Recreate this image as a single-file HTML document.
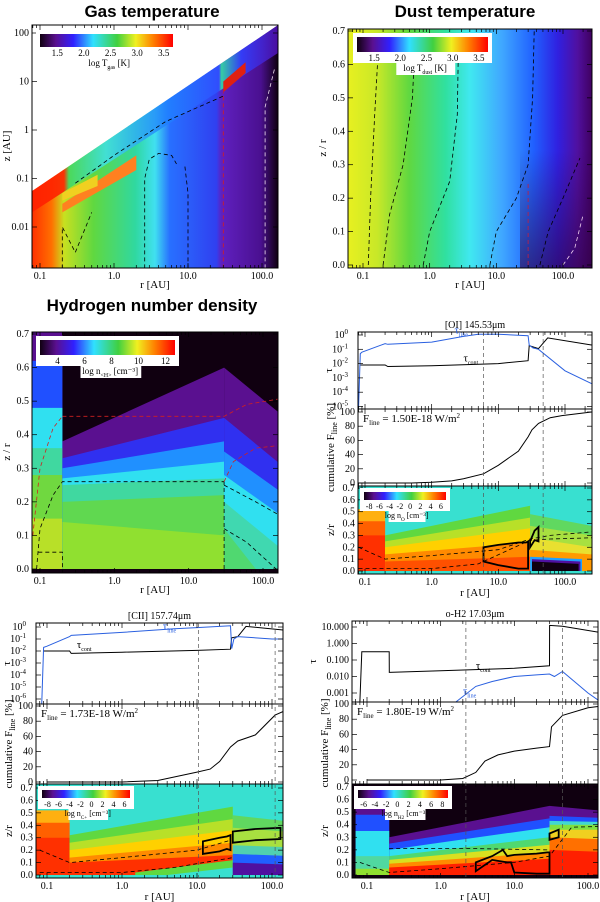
<!DOCTYPE html>
<html><head><meta charset="utf-8"><title>Disk model figure</title>
<style>
html,body{margin:0;padding:0;background:#fff;}
svg{display:block;font-family:"Liberation Serif",serif;}
.t{font-family:"Liberation Sans",sans-serif;font-weight:bold;font-size:17px;}
.tk{font-size:10px;}
</style></head>
<body>
<svg id="fig" width="600" height="902" viewBox="0 0 600 902" xmlns="http://www.w3.org/2000/svg">
<defs>
<linearGradient id="rb" x1="0" x2="1" y1="0" y2="0">
<stop offset="0" stop-color="#100010"/><stop offset="0.12" stop-color="#5a1090"/><stop offset="0.25" stop-color="#3020ff"/>
<stop offset="0.4" stop-color="#30e0ff"/><stop offset="0.58" stop-color="#40d040"/><stop offset="0.72" stop-color="#f0f020"/>
<stop offset="0.85" stop-color="#ff8000"/><stop offset="1" stop-color="#ff0000"/></linearGradient>
<linearGradient id="gasg" gradientUnits="userSpaceOnUse" x1="32" x2="278" y1="0" y2="0">
<stop offset="0" stop-color="#ff3000"/><stop offset="0.08" stop-color="#ff7000"/><stop offset="0.13" stop-color="#c8e020"/>
<stop offset="0.25" stop-color="#60d840"/><stop offset="0.42" stop-color="#30d8a0"/><stop offset="0.5" stop-color="#40e0f0"/>
<stop offset="0.56" stop-color="#2870ff"/><stop offset="0.75" stop-color="#3040f0"/><stop offset="0.77" stop-color="#6020c0"/>
<stop offset="0.93" stop-color="#4a1090"/><stop offset="1" stop-color="#100010"/></linearGradient>
<linearGradient id="gasup" gradientUnits="userSpaceOnUse" x1="32" x2="278" y1="0" y2="0">
<stop offset="0" stop-color="#ff2000"/><stop offset="0.13" stop-color="#ff2000"/><stop offset="0.15" stop-color="#40d860"/>
<stop offset="0.3" stop-color="#40e0e0"/><stop offset="0.55" stop-color="#2080ff"/><stop offset="0.76" stop-color="#3050ff"/>
<stop offset="0.77" stop-color="#30e0a0"/><stop offset="0.85" stop-color="#3040ff"/><stop offset="1" stop-color="#5010b0"/></linearGradient>
<linearGradient id="dustg" gradientUnits="userSpaceOnUse" x1="348" x2="592" y1="0" y2="0">
<stop offset="0" stop-color="#e8f020"/><stop offset="0.12" stop-color="#c8e828"/><stop offset="0.25" stop-color="#60d840"/>
<stop offset="0.4" stop-color="#30e0a0"/><stop offset="0.5" stop-color="#40e8f0"/><stop offset="0.63" stop-color="#40a8ff"/>
<stop offset="0.76" stop-color="#2060ff"/><stop offset="0.86" stop-color="#3020e0"/><stop offset="0.94" stop-color="#5010a0"/>
<stop offset="1" stop-color="#400060"/></linearGradient>
<linearGradient id="dustv" gradientUnits="userSpaceOnUse" x1="0" x2="0" y1="150" y2="268">
<stop offset="0" stop-color="#300040" stop-opacity="0"/><stop offset="1" stop-color="#300040" stop-opacity="0.6"/></linearGradient>
</defs>
</svg>
<script>
// ---------- data arrays ----------
const oiR = [0.08,0.085,0.09,0.2,0.22,1,3,5,10,28,29,33,40,100,250];
const oiLine = [-5.2,-1.3,-1.2,-0.6,-0.65,-0.5,-0.1,0.05,0.05,-0.05,-0.7,-0.9,-1.0,-2.5,-3.4];
const oiContR = [0.085,0.2,0.22,1,10,28,29,40,55,250];
const oiCont = [-2.1,-2.1,-2.2,-2.15,-2.0,-1.8,-0.75,-0.95,-0.2,-0.7];
const oiCumR = [0.08,0.5,1,2,3,6,10,20,28,32,40,60,90,250];
const oiCum = [0,0,1,3,6,13,25,45,65,75,84,92,95,100];
const ciiR = [0.085,0.09,0.1,0.2,0.21,1,5,10,28,29,31,35,100,250];
const ciiLine = [-6.5,-1.7,-1.6,-0.8,-0.7,-0.45,-0.15,-0.05,0.1,-1.8,-1.0,-0.8,-1.0,-1.0];
const ciiContR = [0.09,0.2,0.21,1,10,28,29,35,45,250];
const ciiCont = [-2,-2,-2.2,-2.1,-1.95,-1.85,-0.9,-0.8,0.05,-0.4];
const ciiCumR = [0.1,1,3,10,15,20,28,35,60,110,150,250];
const ciiCum = [0,0,2,13,17,27,46,54,62,88,94,100];
const h2ContR = [0.08,0.085,0.2,0.201,1,10,30,30.1,45,250];
const h2Cont = [-3.5,-0.5,-0.5,-1.75,-1.65,-1.5,-1.35,1.1,1.05,0.5];
const h2LineR = [1.6,3,5,10,20,30,35,45,100,150];
const h2Line = [-3.55,-2.6,-2.3,-2.0,-1.9,-1.85,-2.0,-1.7,-3.0,-3.55];
const h2CumR = [0.1,1,2,3,4,6,10,20,30,32,45,100,250];
const h2Cum = [0,0,2,10,25,33,38,42,44,70,85,95,100];
const xTickVals = [0.1,1,10,100];
const xTickLabels = ["0.1","1.0","10.0","100.0"];
const zrTicks = [0,0.1,0.2,0.3,0.4,0.5,0.6,0.7];
const zrLabels = ["0.0","0.1","0.2","0.3","0.4","0.5","0.6","0.7"];
const zLogTicks = [0.01,0.1,1,10,100];
const zLogLabels = ["0.01","0.1","1","10","100"];
const cumTicks = [0,20,40,60,80,100];
const cumLabels = ["0","20","40","60","80","100"];
const h2TauTicks = [1,0,-1,-2,-3];
const h2TauLabels = ["10.000","1.000","0.100","0.010","0.001"];
const cbGas = ["1.5","2.0","2.5","3.0","3.5"];
const cbH = ["4","6","8","10","12"];
const cbOI = ["-8","-6","-4","-2","0","2","4","6"];
const cbH2 = ["-6","-4","-2","0","2","4","6","8"];

const NS='http://www.w3.org/2000/svg';
const svg=document.getElementById('fig');
function mk(tag,a,p){const e=document.createElementNS(NS,tag);for(const k in a)e.setAttribute(k,a[k]);(p||svg).appendChild(e);return e;}
function L10(v){return Math.log(v)/Math.LN10;}
function axX(P){return r=>P.p01+(L10(r)+1)*(P.p100-P.p01)/3;}
function axLin(v0,y0,v1,y1){return v=>y0+(v-v0)*(y1-y0)/(v1-v0);}
let clipN=0;
function clip(x0,y0,x1,y1){const id='c'+(clipN++);const cp=mk('clipPath',{id:id},svg.querySelector('defs'));mk('rect',{x:x0,y:y0,width:x1-x0,height:y1-y0},cp);return 'url(#'+id+')';}
function frame(x0,y0,x1,y1,g){const e=mk('rect',{x:x0,y:y0,width:x1-x0,height:y1-y0,fill:'none',stroke:'#000','stroke-width':1},g);

}
function txt(x,y,s,a,g){const e=mk('text',Object.assign({x:x,y:y},a||{}),g);e.textContent=s;return e;}
function xTicks(fx,x0,x1,y0,y1,g,labels){
  for(let d=-2;d<=2;d++)for(let m=1;m<10;m++){const r=m*Math.pow(10,d);const x=fx(r);if(x<=x0+0.5||x>=x1-0.5)continue;
    const len=m===1?5:3;mk('line',{x1:x,x2:x,y1:y1,y2:y1-len,stroke:'#000','stroke-width':0.7},g);mk('line',{x1:x,x2:x,y1:y0,y2:y0+len,stroke:'#000','stroke-width':0.7},g);}
  if(labels)xTickVals.forEach((v,i)=>{const e=txt(fx(v),y1+11,xTickLabels[i],{'text-anchor':'middle','class':'tk'},g);
    
    });
}
function yTicks(vals,labs,fy,x0,x1,g,sup){
  vals.forEach((v,i)=>{const y=fy(v);mk('line',{x1:x0,x2:x0+5,y1:y,y2:y,stroke:'#000','stroke-width':0.7},g);mk('line',{x1:x1,x2:x1-5,y1:y,y2:y,stroke:'#000','stroke-width':0.7},g);
    let e;
    if(sup){e=txt(x0-10,y+3,'10',{'text-anchor':'end','class':'tk'},g);const s=mk('tspan',{dy:-4,'font-size':7},e);s.textContent=labs[i];}
    else e=txt(x0-3,y+3,labs[i],{'text-anchor':'end','class':'tk'},g);
    
    });
}
function pathD(xs,ys,fx,fy){return xs.map((r,i)=>(i?'L':'M')+fx(r).toFixed(1)+','+fy(ys[i]).toFixed(1)).join(' ');}
function layers(L,fx,fy,g){L.forEach(l=>{const p=[[l[0],l[2]],[l[1],l[3]],[l[1],l[5]],[l[0],l[4]]].map(q=>fx(q[0]).toFixed(1)+','+fy(q[1]).toFixed(1)).join(' ');
  const e=mk('polygon',{points:p,fill:l[6]},g);
  
  });}
function colorbar(x,y,w,h,labs,label,sub,unit,g,fs){
  const bg=mk('rect',{x:x-4,y:y-4,width:w+8,height:h+15,fill:'#fff'},g);
  
  
  const b=mk('rect',{x:x,y:y,width:w,height:h,fill:'url(#rb)'},g);
  
  
  labs.forEach((s,i)=>{const e=txt(x+w*(i+0.5)/labs.length+ (labs.length>5?0:4),y+h+9,s,{'text-anchor':'middle','font-size':fs},g);
    
    });
  const lb=mk('rect',{x:x+w*0.3,y:y+h+10,width:w*0.45,height:fs+4,fill:'#fff'},g);
  const t=txt(x+w*0.52,y+h+10+fs,label,{'text-anchor':'middle','font-size':fs},g);
  const s=mk('tspan',{dy:3,'font-size':fs*0.65},t);s.textContent=sub;
  const u=mk('tspan',{dy:-3},t);u.textContent=' '+unit;
  
  
}
function title(x,y,s){const e=txt(x,y,s,{'text-anchor':'middle','class':'t'});
  
  }
function ylabel(x,y,s,sub,rest,g){const e=txt(x,y,s,{'text-anchor':'middle','font-size':11,transform:'rotate(-90 '+x+' '+y+')'},g);
  if(sub){const t=mk('tspan',{dy:3,'font-size':8},e);t.textContent=sub;const u=mk('tspan',{dy:-3},e);u.textContent=rest;}
  
  }
function xlabel(x,y,g){const e=txt(x,y,'r [AU]',{'text-anchor':'middle','font-size':11},g);
  
  }
function dash(d,col,g,w){const e=mk('path',{d:d,fill:'none',stroke:col,'stroke-width':w||0.8,'stroke-dasharray':'4,3'},g);
  
  }

// ---------- Panel 1: gas temperature ----------
title(152,17,'Gas temperature');
(function(){
 const g=mk('g',{});
 const P={p01:40,p100:262};const fx=axX(P);const fy=z=>227-(L10(z)+2)*48.5;
 const gc=mk('g',{'clip-path':clip(32,25,278,268)},g);
 const rmin=0.078,rmax=170;
 const disk=mk('polygon',{points:[[rmin,0.001],[rmin,0.055],[rmax,150],[rmax,0.001]].map(q=>fx(q[0])+','+fy(q[1])).join(' '),fill:'url(#gasg)'},gc);
 
 
 const up=mk('polygon',{points:[[rmin,0.055],[rmax,150],[rmax,40],[rmin,0.02]].map(q=>fx(q[0])+','+fy(q[1])).join(' '),fill:'url(#gasup)',opacity:0.9},gc);
 
 
 layers([[0.2,2,0.03,0.3,0.02,0.15,'#ff8020'],[0.2,0.6,0.05,0.12,0.035,0.07,'#f0d020']],fx,fy,gc);
 const hot=mk('polygon',{points:[[30,10],[60,25],[60,15],[30,6]].map(q=>fx(q[0])+','+fy(q[1])).join(' '),fill:'#e02010'},gc);
 
 
 dash(pathD([2.6,2.6,3,4,6,7],[0.0014,0.1,0.25,0.33,0.3,0.2],fx,fy),'#000',gc);
 dash(pathD([10,10,9],[0.0014,0.05,0.2],fx,fy),'#000',gc);
 dash(pathD([0.2,0.2,0.3,0.5],[0.0014,0.01,0.003,0.02],fx,fy),'#000',gc);
 dash(pathD([0.3,1,5,30],[0.08,0.3,1.5,5],fx,fy),'#000',gc);
 dash(pathD([110,110,150],[0.0014,3,20],fx,fy),'#f0e0f0',gc);
 dash(pathD([30,30],[0.0014,6],fx,fy),'#d02020',gc);
 frame(32,25,278,268,g);
 xTicks(fx,32,278,25,268,g,true);
 yTicks(zLogTicks,zLogLabels,fy,32,278,g,false);
 xlabel(155,288,g);ylabel(10,146,'z [AU]',null,null,g);
 colorbar(40,34,133,13,cbGas,'log T','gas','[K]',g,9);
})();

// ---------- Panel 2: dust temperature ----------
title(465,17,'Dust temperature');
(function(){
 const g=mk('g',{});
 const P={p01:363,p100:563};const fx=axX(P);const fy=axLin(0,265,0.7,31);
 const gc=mk('g',{'clip-path':clip(348,29,592,268)},g);
 const m=mk('rect',{x:348,y:29,width:244,height:239,fill:'url(#dustg)'},gc);
 
 
 const ov=mk('rect',{x:520,y:150,width:72,height:118,fill:'url(#dustv)'},gc);
 
 
 dash(pathD([0.12,0.13,0.15,0.17],[0,0.2,0.45,0.65],fx,fy),'#000',gc);
 dash(pathD([0.2,0.25,0.4,0.55,0.6],[0,0.15,0.3,0.5,0.65],fx,fy),'#000',gc);
 dash(pathD([0.8,1,2,2.6,2.7],[0,0.1,0.25,0.45,0.65],fx,fy),'#000',gc);
 dash(pathD([8,10,20,30,35,37],[0,0.1,0.2,0.3,0.5,0.7],fx,fy),'#000',gc);
 dash(pathD([45,60,100,180],[0,0.1,0.2,0.32],fx,fy),'#000',gc);
 dash(pathD([100,150,200],[0,0.05,0.15],fx,fy),'#f0d0f0',gc);
 dash(pathD([30,30],[0,0.25],fx,fy),'#c02040',gc);
 frame(348,29,592,268,g);
 xTicks(fx,348,592,29,268,g,true);
 yTicks(zrTicks,zrLabels,fy,348,592,g,false);
 xlabel(470,288,g);ylabel(326,148,'z / r',null,null,g);
 colorbar(357,37,131,15,cbGas,'log T','dust','[K]',g,9);
})();

// ---------- Panel 3: hydrogen density ----------
title(152,311,'Hydrogen number density');
(function(){
 const g=mk('g',{});
 const P={p01:40,p100:263};const fx=axX(P);const fy=axLin(0,569,0.7,334);
 const gc=mk('g',{'clip-path':clip(32,332,278,573)},g);
 const bg=mk('rect',{x:32,y:332,width:246,height:241,fill:'#100010'},gc);
 
 
 layers([
  [0.07,0.2,0.75,0.75,0,0,'#5a1090'],[0.07,0.2,0.62,0.62,0,0,'#2050ff'],[0.07,0.2,0.48,0.48,0,0,'#30e0f0'],
  [0.07,0.2,0.36,0.36,0,0,'#40d8a0'],[0.07,0.2,0.28,0.28,0,0,'#70d840'],[0.07,0.2,0.15,0.15,0,0,'#b8e028'],
  [0.2,30,0.38,0.6,0,0,'#5a1090'],[0.2,30,0.33,0.45,0,0,'#3030f0'],[0.2,30,0.3,0.38,0,0,'#2090ff'],
  [0.2,30,0.27,0.32,0,0,'#30e0f0'],[0.2,30,0.25,0.27,0,0,'#40d8a0'],[0.2,30,0.2,0.22,0,0,'#60d850'],[0.2,30,0.14,0.1,0,0,'#90e030'],
  [30,200,0.6,0.45,0,0,'#5a1090'],[30,200,0.45,0.3,0,0,'#3030f0'],[30,200,0.35,0.22,0,0,'#2090ff'],
  [30,200,0.28,0.15,0,0,'#30e0f0'],[30,200,0.2,0.05,0,0,'#40d8b0'],[30,80,0.12,0.0,0,0,'#50d870']
 ],fx,fy,gc);
 dash(pathD([0.2,30,60,200],[0.455,0.455,0.49,0.51],fx,fy),'#d02020',gc);
 dash(pathD([0.08,0.1,0.15,0.2],[0.1,0.3,0.42,0.455],fx,fy),'#d02020',gc);
 dash(pathD([0.09,0.1,0.15,0.2,30],[0,0.12,0.22,0.26,0.26],fx,fy),'#000',gc);
 dash(pathD([30,40,80,200],[0.26,0.32,0.36,0.37],fx,fy),'#d02020',gc);
 dash(pathD([30,30],[0,0.26],fx,fy),'#000',gc);
 dash(pathD([30,80,200],[0.25,0.2,0.15],fx,fy),'#000',gc);
 dash(pathD([30,60,150],[0.12,0.08,0],fx,fy),'#000',gc);
 dash(pathD([0.095,0.2,0.2],[0.05,0.05,0],fx,fy),'#000',gc);
 frame(32,332,278,573,g);
 xTicks(fx,32,278,332,573,g,true);
 yTicks(zrTicks,zrLabels,fy,32,278,g,false);
 xlabel(155,593,g);ylabel(10,452,'z / r',null,null,g);
 colorbar(40,340,135,15,cbH,'log n','<H>','[cm⁻³]',g,9);
})();

// ---------- line panels ----------
function linePanel(o){
 const g=mk('g',{});
 const fx=axX(o);
 const tt=txt((o.x0+o.x1)/2,o.t0-4,o.title,{'text-anchor':'middle','font-size':10},g);
 
 
 const ft=axLin(o.tauRef[0],o.tauRef[1],o.tauRef[0]-1,o.tauRef[1]+o.tauRef[2]);
 const gt=mk('g',{'clip-path':clip(o.x0,o.t0,o.x1,o.t1)},g);
 const bl=mk('path',{d:pathD(o.contR,o.cont,fx,ft),fill:'none',stroke:'#000','stroke-width':1},gt);
 
 
 const bu=mk('path',{d:pathD(o.lineR,o.line,fx,ft),fill:'none',stroke:'#2a60e0','stroke-width':1},gt);
 
 
 frame(o.x0,o.t0,o.x1,o.t1,g);
 xTicks(fx,o.x0,o.x1,o.t0,o.t1,g,false);
 if(o.tauLabels)yTicks(o.tauTicks,o.tauLabels,ft,o.x0,o.x1,g,false);
 else yTicks(o.tauTicks,o.tauTicks.map(String),ft,o.x0,o.x1,g,true);
 ylabel(o.x0-(o.tauLabels?36:26),(o.t0+o.t1)/2,'τ',null,null,g);
 const l1=txt(fx(o.lblLine[0]),ft(o.lblLine[1]),'τ',{'font-size':11,fill:'#2a60e0'},g);const s1=mk('tspan',{dy:3,'font-size':6},l1);s1.textContent='line';
 
 
 const l2=txt(fx(o.lblCont[0]),ft(o.lblCont[1]),'τ',{'font-size':11},g);const s2=mk('tspan',{dy:3,'font-size':6},l2);s2.textContent='cont';
 
 
 const fc=axLin(0,o.cum0,100,o.cum100);
 const gcm=mk('g',{'clip-path':clip(o.x0,o.t1,o.x1,o.c1)},g);
 const cl=mk('path',{d:pathD(o.cumR,o.cum,fx,fc),fill:'none',stroke:'#000','stroke-width':1},gcm);
 
 
 frame(o.x0,o.t1,o.x1,o.c1,g);
 xTicks(fx,o.x0,o.x1,o.t1,o.c1,g,false);
 yTicks(cumTicks,cumLabels,fc,o.x0,o.x1,g,false);
 const fl=txt(o.x0+5,o.t1+13,'F',{'font-size':11},g);const fs=mk('tspan',{dy:3,'font-size':7},fl);fs.textContent='line';const fr=mk('tspan',{dy:-3},fl);fr.textContent=' = '+o.flux+' W/m';const f2=mk('tspan',{dy:-4,'font-size':7},fl);f2.textContent='2';
 
 
 ylabel(o.x0-24,(o.t1+o.c1)/2,'cumulative F','line',' [%]',g);
 const fz=axLin(0,o.z0,0.7,o.z7);
 const gm=mk('g',{'clip-path':clip(o.x0,o.c1,o.x1,o.m1)},g);
 const bg=mk('rect',{x:o.x0,y:o.c1,width:o.x1-o.x0,height:o.m1-o.c1,fill:o.bg},gm);
 
 
 layers(o.layers,fx,fz,gm);
 o.dashes.forEach(d=>dash(pathD(d[0],d[1],fx,fz),d[2]||'#000',gm));
 o.boxes.forEach(b=>{const e=mk('path',{d:pathD(b[0],b[1],fx,fz)+' Z',fill:'none',stroke:'#000','stroke-width':1.8},gm);
   
   });
 frame(o.x0,o.c1,o.x1,o.m1,g);
 xTicks(fx,o.x0,o.x1,o.c1,o.m1,g,true);
 yTicks(zrTicks,zrLabels,fz,o.x0,o.x1,g,false);
 ylabel(o.x0-24,(o.c1+o.m1)/2,'z/r',null,null,g);
 xlabel((o.x0+o.x1)/2,o.m1+22,g);
 o.vlines.forEach(r=>{const e=mk('line',{x1:fx(r),x2:fx(r),y1:o.t0,y2:o.m1,stroke:'#555','stroke-width':0.7,'stroke-dasharray':'4,3'},g);
   
   });
 colorbar(o.cb[0],o.cb[1],o.cb[2],8,o.cbl,'log n',o.sp,'[cm⁻³]',g,8);
}

linePanel({name:'oi-line-panel',title:'[OI] 145.53μm',x0:358,x1:592,p01:365,p100:565,t0:332,t1:409,c1:486,m1:574,
 tauRef:[0,335,14.3],tauTicks:[0,-1,-2,-3,-4,-5],
 lineR:oiR,line:oiLine,contR:oiContR,cont:oiCont,lblLine:[2.2,0.1],lblCont:[3,-1.85],
 cumR:oiCumR,cum:oiCum,cum0:483,cum100:412,flux:'1.50E-18',z0:571,z7:488,bg:'#38e0d0',sp:'O',
 layers:[
  [0.07,0.2,0.52,0.52,0,0,'#ffb010'],[0.07,0.2,0.42,0.42,0,0,'#ff6000'],[0.07,0.2,0.3,0.3,0,0,'#ff3000'],
  [0.2,30,0.3,0.55,0,0,'#60d840'],[0.2,30,0.25,0.45,0,0,'#b8e028'],[0.2,30,0.2,0.36,0,0,'#ffd000'],
  [0.2,30,0.14,0.24,0,0,'#ff8a00'],[0.2,30,0.08,0.12,0,0,'#ff5000'],
  [30,250,0.48,0.38,0,0,'#60d860'],[30,250,0.38,0.3,0,0,'#a8e040'],[30,250,0.28,0.2,0,0,'#e8e030'],
  [30,250,0.18,0.14,0,0,'#ff9a00'],[30,180,0.12,0.1,0,0,'#20a0ff'],[32,170,0.1,0.08,0,0,'#5010a0'],[32,160,0.08,0.06,0,0,'#100010']],
 dashes:[[[0.08,0.2,1,10,30,60,250],[0.2,0.1,0.13,0.18,0.27,0.3,0.33]],[[0.08,1,5,30,60,250],[0.02,0.02,0.06,0.26,0.27,0.28]]],
 boxes:[[[6,10,20,26,28,28,20,10,6],[0.2,0.22,0.24,0.24,0.25,0.02,0.02,0.05,0.08]],[[30,35,40,40,35,30],[0.25,0.34,0.37,0.25,0.26,0.2]]],
 vlines:[6,47],cb:[364,492,82],cbl:cbOI});

linePanel({name:'cii-line-panel',title:'[CII] 157.74μm',x0:36,x1:283,p01:47,p100:272,t0:623,t1:704,c1:784,m1:878,
 tauRef:[0,627,12],tauTicks:[0,-1,-2,-3,-4,-5,-6],
 lineR:ciiR,line:ciiLine,contR:ciiContR,cont:ciiCont,lblLine:[3.5,-0.2],lblCont:[0.25,-1.75],
 cumR:ciiCumR,cum:ciiCum,cum0:782,cum100:706,flux:'1.73E-18',z0:875,z7:788,bg:'#38e0d0',sp:'C+',
 layers:[
  [0.07,0.2,0.52,0.52,0,0,'#ffb010'],[0.07,0.2,0.42,0.42,0,0,'#ff6000'],[0.07,0.2,0.3,0.3,0,0,'#ff3000'],
  [0.2,30,0.32,0.55,0,0,'#60d840'],[0.2,30,0.26,0.45,0,0,'#b8e028'],[0.2,30,0.2,0.36,0,0,'#ffd000'],
  [0.2,30,0.14,0.26,0,0,'#ff8a00'],[0.2,30,0.1,0.16,0,0,'#ff3000'],
  [1.5,30,0.02,0.12,0,0,'#60d840'],[4,30,0.0,0.06,0,0,'#38e0d0'],
  [30,250,0.48,0.42,0,0,'#60d860'],[30,250,0.38,0.34,0,0,'#a8e040'],[30,250,0.24,0.22,0,0,'#50d0b0'],
  [30,250,0.17,0.15,0,0,'#2060ff'],[30,250,0.1,0.08,0,0,'#5010a0']],
 dashes:[[[0.08,0.2,1,10,28],[0.2,0.1,0.14,0.2,0.28]],[[0.08,1,5,30],[0.02,0.02,0.06,0.14]]],
 boxes:[[[12,20,25,28,28,25,20,12],[0.27,0.3,0.31,0.32,0.2,0.21,0.19,0.17]],[[30,60,130,130,60,30],[0.35,0.37,0.38,0.29,0.28,0.26]]],
 vlines:[10.5,110],cb:[42,790,88],cbl:cbOI});

linePanel({name:'h2-line-panel',title:'o-H2 17.03μm',x0:352,x1:598,p01:367,p100:588,t0:621,t1:702,c1:784,m1:878,
 tauRef:[1,627,16.5],tauTicks:h2TauTicks,tauLabels:h2TauLabels,
 lineR:h2LineR,line:h2Line,contR:h2ContR,cont:h2Cont,lblLine:[2,-3.1],lblCont:[3,-1.55],
 cumR:h2CumR,cum:h2Cum,cum0:780,cum100:704,flux:'1.80E-19',z0:875,z7:787,bg:'#100010',sp:'H2',
 layers:[
  [0.07,0.2,0.62,0.62,0,0,'#5a1090'],[0.07,0.2,0.48,0.48,0,0,'#2050ff'],[0.07,0.2,0.35,0.35,0,0,'#30e0f0'],
  [0.07,0.2,0.15,0.15,0,0,'#50d8a0'],[0.07,0.2,0.05,0.05,0,0,'#90e030'],
  [0.2,30,0.3,0.55,0,0,'#5a1090'],[0.2,30,0.25,0.45,0,0,'#2050ff'],[0.2,30,0.2,0.38,0,0,'#30e0f0'],
  [0.2,30,0.15,0.3,0,0,'#50d870'],[0.2,30,0.12,0.24,0,0,'#d8e020'],[0.2,30,0.09,0.18,0,0,'#ff8a00'],[0.2,30,0.06,0.13,0,0,'#ff2000'],
  [30,250,0.55,0.5,0,0,'#5a1090'],[30,250,0.47,0.45,0,0,'#2050ff'],[30,250,0.43,0.42,0,0,'#40d8d0'],
  [30,250,0.4,0.4,0,0,'#80e040'],[30,250,0.36,0.36,0,0,'#f0d020'],[30,250,0.3,0.28,0,0,'#ff7000'],[30,250,0.2,0.18,0,0,'#ff2000']],
 dashes:[[[0.2,1,3,30],[0.21,0.21,0.21,0.2]],[[0.08,0.2,1,10,30,60,250],[0.1,0.02,0.05,0.1,0.15,0.38,0.39]]],
 boxes:[[[3,5,7,8,10,20,28,30,30,20,10,9,8,5,3],[0.1,0.15,0.2,0.15,0.16,0.17,0.18,0.18,0.01,0.01,0.02,0.1,0.1,0.12,0.03]],[[30,40,40,30],[0.33,0.36,0.3,0.28]]],
 vlines:[2.2,45],cb:[358,790,90],cbl:cbH2});
</script>
</body></html>
